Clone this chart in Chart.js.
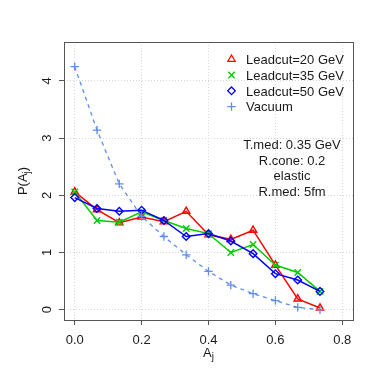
<!DOCTYPE html>
<html>
<head>
<meta charset="utf-8">
<script src="https://cdn.jsdelivr.net/npm/chart.js@4"></script>
<style>
  html, body { margin: 0; padding: 0; background: #fff; }
  #chart { display: block; }
</style>
</head>
<body>
<canvas id="chart" width="374" height="374"></canvas>
<script>
// A_j distribution, elastic, T.med 0.35 GeV

const aj = [0, 0.0667, 0.1333, 0.2, 0.2667, 0.3333, 0.4, 0.4667, 0.5333, 0.6, 0.6667, 0.7333];
const lead20 = [2.06, 1.75, 1.52, 1.62, 1.54, 1.72, 1.31, 1.23, 1.39, 0.78, 0.19, 0.03];
const lead35 = [2.06, 1.56, 1.53, 1.71, 1.56, 1.42, 1.33, 1.00, 1.14, 0.78, 0.65, 0.32];
const lead50 = [1.96, 1.77, 1.72, 1.74, 1.56, 1.28, 1.33, 1.20, 0.98, 0.63, 0.52, 0.32];
const vacuum = [4.25, 3.14, 2.20, 1.63, 1.28, 0.96, 0.67, 0.43, 0.28, 0.16, 0.04, 0.0];

const xTicks = [0, 0.2, 0.4, 0.6, 0.8];
const yTicks = [0, 1, 2, 3, 4];

const seriesNames = ['Leadcut=20 GeV', 'Leadcut=35 GeV', 'Leadcut=50 GeV', 'Vacuum'];
const noteLines = ['T.med: 0.35 GeV', 'R.cone: 0.2', 'elastic', 'R.med: 5fm'];

const RED = '#ff0000';
const GREEN = '#00cd00';
const BLUE = '#0000ff';
const VAC = '#5f8dec';
const FONT = '"Liberation Sans", Arial, sans-serif';

function pts(ys) {
    return aj.map((x, i) => ({ x: x, y: ys[i] }));
}

// little marker drawer, used for the legend
function marker(ctx, style, x, y, r, color) {
    ctx.save();
    ctx.strokeStyle = color;
    ctx.lineWidth = 1.3;
    ctx.beginPath();
    if (style === 'triangle') {
        ctx.moveTo(x, y - r);
        ctx.lineTo(x + r * 0.866, y + r * 0.5);
        ctx.lineTo(x - r * 0.866, y + r * 0.5);
        ctx.closePath();
    } else if (style === 'rectRot') {
        ctx.moveTo(x, y - r);
        ctx.lineTo(x + r, y);
        ctx.lineTo(x, y + r);
        ctx.lineTo(x - r, y);
        ctx.closePath();
    } else if (style === 'crossRot') {
        const d = r * 0.707;
        ctx.moveTo(x - d, y - d); ctx.lineTo(x + d, y + d);
        ctx.moveTo(x + d, y - d); ctx.lineTo(x - d, y + d);
    } else {
        ctx.moveTo(x - r, y); ctx.lineTo(x + r, y);
        ctx.moveTo(x, y - r); ctx.lineTo(x, y + r);
    }
    ctx.stroke();
    ctx.restore();
}

// text with a subscript piece: parts = [[text, isSub], ...]
function subText(ctx, parts, x, y, rotate) {
    ctx.save();
    ctx.translate(x, y);
    if (rotate) ctx.rotate(-Math.PI / 2);
    let total = 0;
    parts.forEach(p => {
        ctx.font = (p[1] ? '10px ' : '13px ') + FONT;
        total += ctx.measureText(p[0]).width;
    });
    let cx = -total / 2;
    ctx.fillStyle = '#1a1a1a';
    ctx.textBaseline = 'alphabetic';
    ctx.textAlign = 'left';
    parts.forEach(p => {
        ctx.font = (p[1] ? '10px ' : '13px ') + FONT;
        ctx.fillText(p[0], cx, p[1] ? 3.5 : 0);
        cx += ctx.measureText(p[0]).width;
    });
    ctx.restore();
}

const decorations = {
    id: 'decorations',
    afterDraw(chart) {
        const ctx = chart.ctx;
        const a = chart.chartArea;

        // R style box
        ctx.save();
        ctx.strokeStyle = '#555';
        ctx.lineWidth = 1;
        ctx.strokeRect(Math.round(a.left) + 0.5, Math.round(a.top) + 0.5,
            Math.round(a.right - a.left), Math.round(a.bottom - a.top));
        ctx.restore();

        // legend (no frame)
        const styles = ['triangle', 'crossRot', 'rectRot', 'cross'];
        const colors = [RED, GREEN, BLUE, VAC];
        const radii = [4.2, 4.5, 3.8, 4.2];
        ctx.save();
        ctx.font = '13px ' + FONT;
        ctx.fillStyle = '#1a1a1a';
        ctx.textBaseline = 'alphabetic';
        ctx.textAlign = 'left';
        seriesNames.forEach((name, i) => {
            const base = 64 + i * 15.8;
            marker(ctx, styles[i], 231.5, base - 4.8, radii[i], colors[i]);
            ctx.fillText(name, 246, base);
        });

        // run settings
        ctx.textAlign = 'center';
        noteLines.forEach((line, i) => {
            ctx.fillText(line, 292, 149.3 + i * 15.5);
        });
        ctx.restore();

        // axis titles
        subText(ctx, [['A', 0], ['j', 1]], (a.left + a.right) / 2, 356.5, false);
        subText(ctx, [['P(A', 0], ['j', 1], [')', 0]], 26.5, (a.top + a.bottom) / 2, true);
    }
};

const ctx = document.getElementById('chart').getContext('2d');
new Chart(ctx, {
    type: 'line',
    data: {
        datasets: [{
            label: seriesNames[0],
            data: pts(lead20),
            borderColor: RED,
            pointStyle: 'triangle',
            pointRadius: 4.2,
            order: 4
        }, {
            label: seriesNames[1],
            data: pts(lead35),
            borderColor: GREEN,
            pointStyle: 'crossRot',
            pointRadius: 4.5,
            order: 3
        }, {
            label: seriesNames[2],
            data: pts(lead50),
            borderColor: BLUE,
            pointStyle: 'rectRot',
            pointRadius: 3.8,
            order: 2
        }, {
            label: seriesNames[3],
            data: pts(vacuum),
            borderColor: VAC,
            borderDash: [4, 4],
            borderWidth: 1.3,
            pointStyle: 'cross',
            pointRadius: 4.2,
            order: 1
        }]
    },
    options: {
        responsive: false,
        devicePixelRatio: 1,
        animation: false,
        layout: { padding: { left: 0, top: 42, right: 21, bottom: 0 } },
        elements: {
            line: { borderWidth: 1.5, tension: 0, fill: false },
            point: { backgroundColor: 'rgba(0,0,0,0)', borderWidth: 1.4, hoverRadius: 4 }
        },
        datasets: {
            line: {
                pointBorderColor: ctx => ctx.dataset.borderColor,
                pointBackgroundColor: 'rgba(0,0,0,0)'
            }
        },
        plugins: {
            legend: { display: false },
            tooltip: { enabled: false },
            title: { display: false }
        },
        scales: {
            x: {
                type: 'linear',
                min: -0.032,
                max: 0.832,
                afterBuildTicks: s => { s.ticks = xTicks.map(v => ({ value: v })); },
                afterFit: s => { s.height = 54; },
                grid: {
                    color: '#d6d6d6',
                    lineWidth: 1,
                    tickLength: 5,
                    tickColor: '#555',
                    tickWidth: 1
                },
                border: { display: false, dash: [1, 2] },
                ticks: {
                    color: '#1a1a1a',
                    font: { family: FONT, size: 13 },
                    padding: 8,
                    maxRotation: 0,
                    autoSkip: false,
                    callback: v => v.toFixed(1)
                }
            },
            y: {
                type: 'linear',
                min: -0.18,
                max: 4.68,
                afterBuildTicks: s => { s.ticks = yTicks.map(v => ({ value: v })); },
                afterFit: s => { s.width = 64; },
                grid: {
                    color: '#d6d6d6',
                    lineWidth: 1,
                    tickLength: 5,
                    tickColor: '#555',
                    tickWidth: 1
                },
                border: { display: false, dash: [1, 2] },
                ticks: {
                    color: '#1a1a1a',
                    font: { family: FONT, size: 13 },
                    padding: 8,
                    minRotation: 90,
                    maxRotation: 90,
                    crossAlign: 'center',
                    autoSkip: false,
                    callback: v => String(v)
                }
            }
        }
    },
    plugins: [decorations]
});
</script>
</body>
</html>
